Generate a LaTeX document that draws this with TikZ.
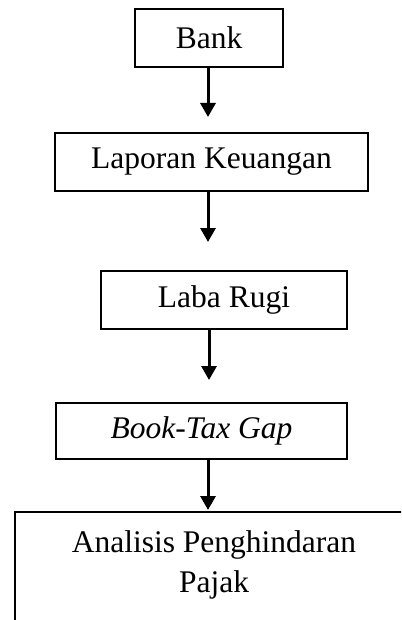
\documentclass[tikz,border=0pt]{standalone}
\usepackage{fontspec}
\setmainfont{Liberation Serif}
\usetikzlibrary{arrows.meta}
\begin{document}
\begin{tikzpicture}[x=1pt,y=-1pt,
  box/.style={draw=black, line width=1.6pt, rectangle, inner sep=0pt,
    font=\fontsize{31.5}{40}\selectfont},
  arr/.style={line width=3pt, -{Triangle[width=15pt,length=14pt]}}]
\useasboundingbox (0,0) rectangle (401,620);
\clip (0,0) rectangle (401,620);
\node[box, minimum width=148pt, minimum height=58pt] (bank) at (209,38) {Bank};
\node[box, minimum width=313pt, minimum height=58pt] (lap) at (211.5,162) {Laporan Keuangan};
\node[box, minimum width=246pt, minimum height=58pt] (laba) at (224,300) {Laba Rugi};
\node[box, minimum width=291pt, minimum height=56pt] (btg) at (201.5,431) {\itshape Book-Tax Gap};
\node[box, minimum width=398pt, minimum height=200pt, anchor=north] (ana) at (214,511) {};
\node[font=\fontsize{31.5}{40}\selectfont, align=center, inner sep=0pt, anchor=north] (anatext) at (214,530) {Analisis Penghindaran\\Pajak};
\coordinate (t1) at (208,117);
\coordinate (t2) at (208,242);
\coordinate (t3) at (209,380);
\coordinate (t4) at (208,510);
\draw[arr] (bank.south -| t1) -- (t1);
\draw[arr] (lap.south -| t2) -- (t2);
\draw[arr] (laba.south -| t3) -- (t3);
\draw[arr] (btg.south -| t4) -- (t4);
\end{tikzpicture}
\end{document}
